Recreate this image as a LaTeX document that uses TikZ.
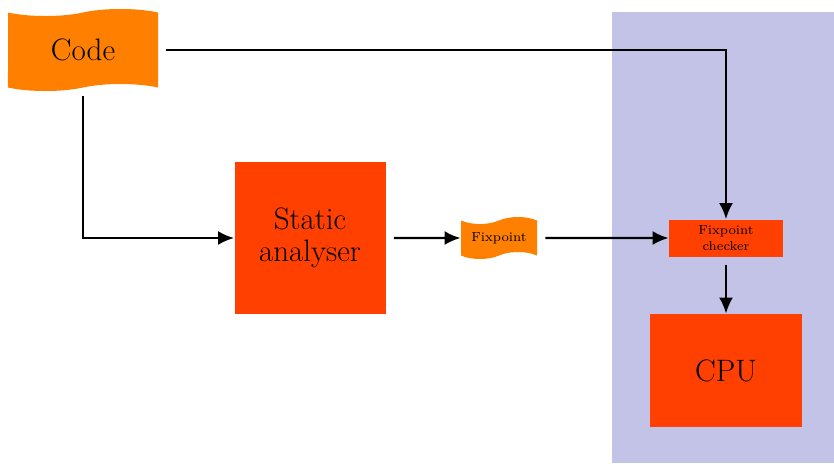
\documentclass[tikz,border=0pt]{standalone}
\usetikzlibrary{shapes.symbols,arrows.meta}
\definecolor{codeorange}{RGB}{255,128,0}
\definecolor{boxred}{RGB}{255,64,0}
\definecolor{cpulilac}{RGB}{195,195,232}
\tikzset{
  doc/.style={tape,fill=codeorange,draw=none,inner sep=0pt,tape bend height=3.5pt},
  unit/.style={rectangle,fill=boxred,draw=none,inner sep=0pt,align=center},
  arr/.style={-{Latex[length=8pt,width=7pt]},line width=1.2pt,shorten <=4pt},
  big/.style={font=\fontsize{15.5}{16}\selectfont},
  small/.style={font=\fontsize{6.5}{8}\selectfont},
}
\begin{document}
\begin{tikzpicture}[x=0.5pt,y=-0.5pt]
  \useasboundingbox (0,0) rectangle (834,463);
  \fill[cpulilac] (612,12) rectangle (834,463);
  \node[doc,big,minimum width=75pt,minimum height=41pt](code) at (83,50){Code};
  \node[unit,big,minimum width=75.5pt,minimum height=76pt](static) at (310,238){Static\\analyser};
  \node[doc,small,minimum width=38pt,minimum height=21pt](fix) at (499,238){Fixpoint};
  \node[unit,small,minimum width=57pt,minimum height=18.5pt](checker) at (726,238){Fixpoint\\checker};
  \node[unit,big,minimum width=76pt,minimum height=56.5pt](cpu) at (726,370.5){CPU};
  \draw[arr](code.east) -| (checker.north);
  \draw[arr](code.south) |- (static.west);
  \draw[arr](static) -- (fix);
  \draw[arr](fix) -- (checker);
  \draw[arr](checker) -- (cpu);
\end{tikzpicture}
\end{document}
